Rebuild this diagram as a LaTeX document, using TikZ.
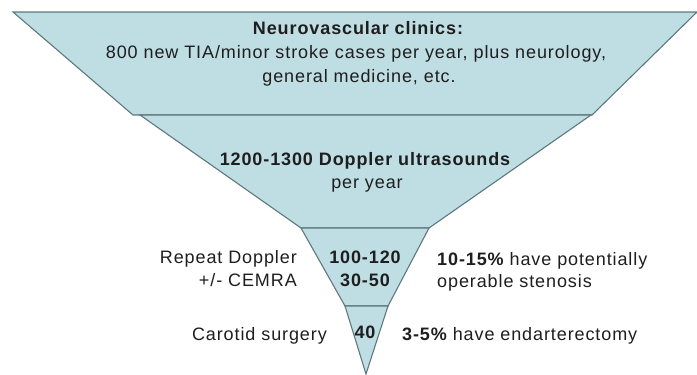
\documentclass[tikz,border=0pt]{standalone}
\usepackage{fontspec}
\setmainfont{Liberation Sans}[LetterSpace=5]
\definecolor{funfill}{RGB}{191,222,228}
\definecolor{funline}{RGB}{95,120,125}
\definecolor{txt}{RGB}{30,30,30}
\begin{document}
\begin{tikzpicture}[x=1pt,y=-1pt,
  band/.style={fill=funfill,draw=funline,line width=1.1pt,line join=miter},
  lbl/.style={inner sep=0pt,anchor=base,text=txt,font=\fontsize{18}{21}\selectfont},
  lblr/.style={lbl,anchor=base east},
  lbll/.style={lbl,anchor=base west}]
\useasboundingbox (0,0) rectangle (697,375);
% funnel bands
\draw[band] (13,12) -- (697,12) -- (592,115) -- (133,115) -- cycle;
\draw[band] (140,115) -- (591,115) -- (429,228) -- (301,228) -- cycle;
\draw[band] (301,228) -- (429,228) -- (388,306) -- (345,306) -- cycle;
\draw[band] (345,306) -- (388,306) -- (366,374) -- cycle;
% top band text
\node[lbl] (t1) at (358,34) {\bfseries Neurovascular clinics:};
\node[lbl] (t2) at (356,58) {800 new TIA/minor stroke cases per year, plus neurology,};
\node[lbl] (t3) at (359,82) {general medicine, etc.};
% second band
\node[lbl] (d1) at (365,165) {\bfseries 1200-1300 Doppler ultrasounds};
\node[lbl] (d2) at (367,188) {per year};
% third band
\node[lbl] (m1) at (365,263) {\bfseries 100-120};
\node[lbl] (m2) at (365,286) {\bfseries 30-50};
\node[lbl] (m3) at (365,338) {\bfseries 40};
% left labels
\node[lblr] (l1) at (297,263) {Repeat Doppler};
\node[lblr] (l2) at (297,286) {+/- CEMRA};
\node[lblr] (l3) at (327,340) {Carotid surgery};
% right labels
\node[lbll] (r1) at (437,265) {\bfseries 10-15\%\mdseries{} have potentially};
\node[lbll] (r2) at (437,287) {operable stenosis};
\node[lbll] (r3) at (402,340) {\bfseries 3-5\%\mdseries{} have endarterectomy};
\end{tikzpicture}
\end{document}
